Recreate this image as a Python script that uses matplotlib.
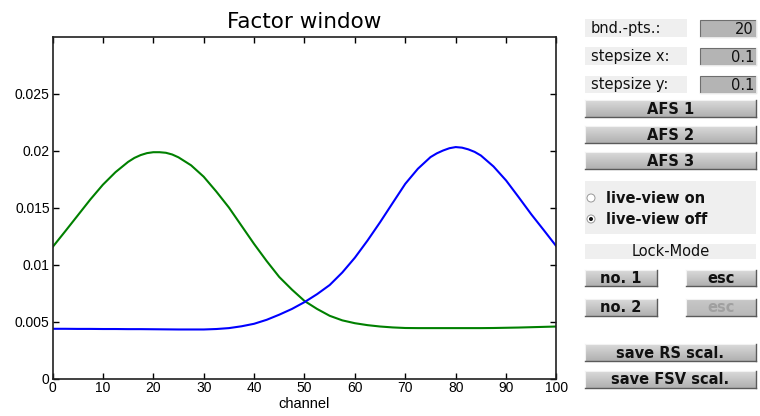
import numpy as np
import matplotlib
matplotlib.use("Agg")
import matplotlib.pyplot as plt
from matplotlib.patches import Rectangle, Circle
from matplotlib.colors import LinearSegmentedColormap

# ----------------------------------------
#  Data
# ----------------------------------------
green_channel = [0, 2.5, 5, 7.5, 10, 12.5, 15, 16.25, 17.5, 18.75, 20, 21.25, 22.5, 23.75,
                 25, 27.5, 30, 32.5, 35, 37.5, 40, 42.5, 45, 47.5, 50, 52.5, 55, 57.5,
                 60, 62.5, 65, 67.5, 70, 72.5, 75, 77.5, 80, 82.5, 85, 87.5, 90, 92.5,
                 95, 97.5, 100]
factor_green = [0.01152, 0.0129, 0.0143, 0.0157, 0.0170, 0.0181, 0.0190, 0.01935, 0.0196,
                0.01977, 0.01985, 0.01985, 0.0198, 0.01965, 0.0194, 0.0187, 0.0177, 0.0164,
                0.0150, 0.0134, 0.0118, 0.0103, 0.0089, 0.0078, 0.0068, 0.0061, 0.0055,
                0.0051, 0.00485, 0.00468, 0.00456, 0.00448, 0.00443, 0.00442, 0.00442,
                0.00442, 0.00442, 0.00442, 0.00442, 0.00443, 0.00445, 0.00447, 0.00450,
                0.00453, 0.00456]

blue_channel = [0, 2.5, 5, 7.5, 10, 12.5, 15, 17.5, 20, 22.5, 25, 27.5, 30, 32.5, 35,
                37.5, 40, 42.5, 45, 47.5, 50, 52.5, 55, 57.5, 60, 62.5, 65, 67.5, 70,
                72.5, 75, 76.25, 77.5, 78.75, 80, 81.25, 82.5, 83.75, 85, 87.5, 90,
                92.5, 95, 97.5, 100]
factor_blue = [0.00436, 0.00436, 0.00435, 0.00435, 0.00434, 0.00434, 0.00433, 0.00433,
               0.00432, 0.00431, 0.0043, 0.0043, 0.0043, 0.00434, 0.00442, 0.00458,
               0.0048, 0.00515, 0.0056, 0.0061, 0.0067, 0.0074, 0.0082, 0.0093, 0.0106,
               0.0121, 0.01371, 0.0154, 0.01708, 0.0184, 0.01942, 0.01975, 0.0200,
               0.0202, 0.0203, 0.02025, 0.0201, 0.01988, 0.01956, 0.0186, 0.01737,
               0.0159, 0.0144, 0.0130, 0.01158]

x_ticks = [0, 10, 20, 30, 40, 50, 60, 70, 80, 90, 100]
y_ticks = [0, 0.005, 0.01, 0.015, 0.02, 0.025]
y_tick_labels = ["0", "0.005", "0.01", "0.015", "0.02", "0.025"]

W, H = 760, 416

fig = plt.figure(figsize=(W / 100, H / 100), dpi=100)
fig.patch.set_facecolor("white")

# ----------------------------------------
#  Main axes
# ----------------------------------------
ax = fig.add_axes([52.5 / W, 1 - 378.5 / H, 504 / W, 342 / H])
ax.plot(green_channel, factor_green, color="#008000", lw=1.5, solid_joinstyle="round")
ax.plot(blue_channel, factor_blue, color="#0000ff", lw=1.5, solid_joinstyle="round")
ax.set_xlim(0, 100)
ax.set_ylim(0, 0.03)
ax.set_xticks(x_ticks)
ax.set_yticks(y_ticks)
ax.set_yticklabels(y_tick_labels)
ax.tick_params(direction="in", length=4, width=1, top=True, right=True,
               labelsize=10, pad=2)
for lab in ax.get_xticklabels() + ax.get_yticklabels():
    lab.set_family("Liberation Sans")
for sp in ax.spines.values():
    sp.set_linewidth(1.2)
    sp.set_color("#202020")
ax.set_xlabel("channel", family="Liberation Sans", fontsize=10.5, labelpad=1)
ax.set_title("Factor window", family="DejaVu Sans", fontsize=15.5, pad=6)

# ----------------------------------------
#  GUI panel in pixel coordinates
# ----------------------------------------
ui = fig.add_axes([0, 0, 1, 1])
ui.set_xlim(0, W)
ui.set_ylim(H, 0)
ui.axis("off")

grad = np.linspace(0, 1, 32).reshape(-1, 1)


def label_box(x0, y0, x1, y1, text, ha="left"):
    ui.add_patch(Rectangle((x0, y0), x1 - x0, y1 - y0, fc="#efefef", ec="none"))
    tx = x0 + 6 if ha == "left" else (x0 + x1) / 2
    ui.text(tx, (y0 + y1) / 2 + 0.5, text, ha=ha, va="center", fontsize=10.5,
            family="DejaVu Sans", color="#111111")


def edit_box(x0, y0, x1, y1, text):
    ui.add_patch(Rectangle((x0, y0), x1 - x0, y1 - y0, fc="#b4b4b4", ec="#6e6e6e", lw=0.8))
    ui.plot([x0, x1], [y1, y1], color="#e8e8e8", lw=0.8)
    ui.plot([x1, x1], [y0, y1], color="#e8e8e8", lw=0.8)
    ui.text(x1 - 2, (y0 + y1) / 2 + 0.5, text, ha="right", va="center", fontsize=10.5,
            family="DejaVu Sans", color="#111111")


def button(x0, y0, x1, y1, text, enabled=True):
    cmap = LinearSegmentedColormap.from_list(
        "btn", ["#dadada", "#b0b0b0"] if enabled else ["#c8c8c8", "#b8b8b8"])
    ui.imshow(grad, extent=(x0, x1, y1, y0), cmap=cmap, aspect="auto",
              interpolation="bilinear", zorder=1)
    ui.plot([x0, x1], [y0, y0], color="#f2f2f2", lw=0.8, zorder=2)
    ui.plot([x0, x0], [y0, y1], color="#f2f2f2", lw=0.8, zorder=2)
    ui.plot([x0, x1], [y1, y1], color="#5a5a5a", lw=1.0, zorder=2)
    ui.plot([x1, x1], [y0, y1], color="#5a5a5a", lw=1.0, zorder=2)
    ui.text((x0 + x1) / 2, (y0 + y1) / 2 + 0.5, text, ha="center", va="center",
            fontsize=10.5, family="DejaVu Sans", weight="bold",
            color="#111111" if enabled else "#a0a0a0", zorder=3)


label_box(585, 19, 687, 37, "bnd.-pts.:")
edit_box(700, 20, 756, 37, "20")
label_box(585, 47, 687, 65, "stepsize x:")
edit_box(700, 48, 756, 65, "0.1")
label_box(585, 76, 687, 93, "stepsize y:")
edit_box(700, 76, 756, 93, "0.1")

button(585, 100, 756, 117, "AFS 1")
button(585, 126, 756, 143, "AFS 2")
button(585, 152, 756, 169, "AFS 3")

# radio panel
ui.add_patch(Rectangle((585, 181), 171, 53, fc="#efefef", ec="none"))
for cy, txt, on in [(198, "live-view on", False), (219, "live-view off", True)]:
    ui.add_patch(Circle((591, cy), 4, fc="white", ec="#999999", lw=0.7))
    if on:
        ui.add_patch(Circle((591, cy), 2, fc="#111111", ec="none"))
    ui.text(606, cy + 0.5, txt, ha="left", va="center", fontsize=10.5,
            family="DejaVu Sans", weight="bold", color="#111111")

label_box(585, 244, 756, 259, "Lock-Mode", ha="center")

button(585, 270, 657, 286, "no. 1")
button(686, 270, 756, 286, "esc")
button(585, 299, 657, 316, "no. 2")
button(686, 299, 756, 316, "esc", enabled=False)

button(585, 344, 756, 361, "save RS scal.")
button(585, 371, 756, 388, "save FSV scal.")

fig.savefig("out.png", dpi=100)
